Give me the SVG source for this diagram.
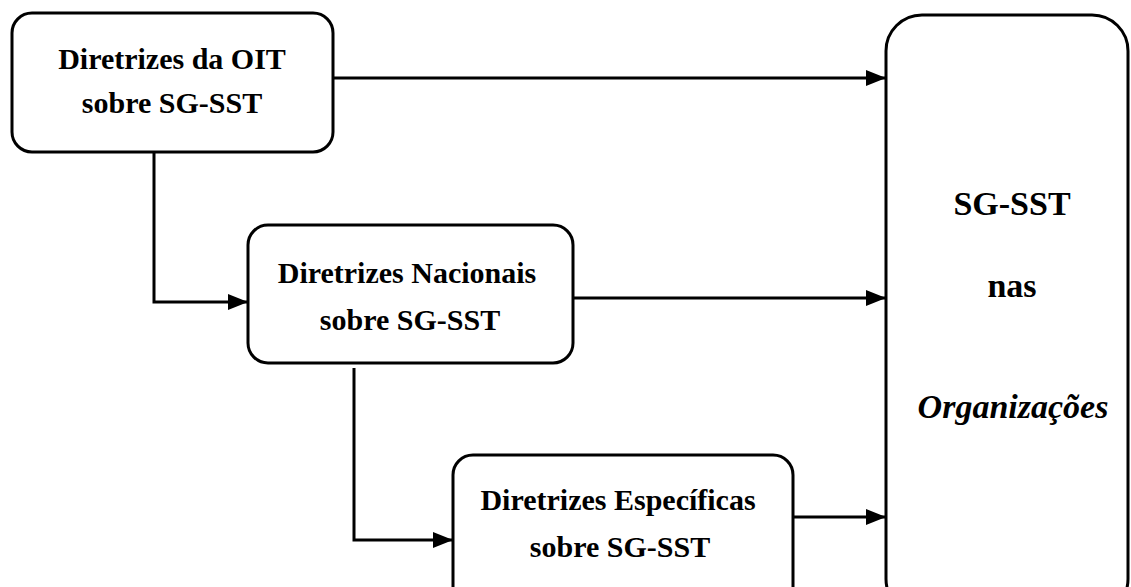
<svg xmlns="http://www.w3.org/2000/svg" width="1131" height="587" viewBox="0 0 1131 587">
<style>
.box{fill:#fff;stroke:#000;stroke-width:3}
.lbl{font-family:"Liberation Serif","Times New Roman",serif;font-weight:bold;font-size:30px;fill:#000;text-anchor:middle}
.big{font-size:34px}
.con{fill:none;stroke:#000;stroke-width:3}
</style>
<defs>
<marker id="ah" viewBox="0 0 20 16" refX="20" refY="8" markerWidth="20" markerHeight="16" markerUnits="userSpaceOnUse" orient="auto">
<path d="M0,0 L20,8 L0,16 z" fill="#000"/>
</marker>
</defs>
<g id="connectors">
<path class="con" d="M333,78 H886" marker-end="url(#ah)"/>
<path class="con" d="M573,298 H886" marker-end="url(#ah)"/>
<path class="con" d="M793,517 H886" marker-end="url(#ah)"/>
<path class="con" d="M154,152 V302 H248" marker-end="url(#ah)"/>
<path class="con" d="M354,368 V540 H453" marker-end="url(#ah)"/>
</g>
<g id="n1">
<rect class="box" x="12" y="13" width="321" height="139" rx="20"/>
<text class="lbl" x="172" y="69">Diretrizes da OIT</text>
<text class="lbl" x="172" y="113">sobre SG-SST</text>
</g>
<g id="n2">
<rect class="box" x="248" y="225" width="325" height="138" rx="20"/>
<text class="lbl" x="407" y="283">Diretrizes Nacionais</text>
<text class="lbl" x="410" y="330">sobre SG-SST</text>
</g>
<g id="n3">
<rect class="box" x="453" y="455" width="340" height="160" rx="20"/>
<text class="lbl" x="618" y="510">Diretrizes Específicas</text>
<text class="lbl" x="620" y="557">sobre SG-SST</text>
</g>
<g id="n4">
<rect class="box" x="886" y="15" width="242" height="600" rx="36"/>
<text class="lbl big" x="1012" y="215">SG-SST</text>
<text class="lbl big" x="1012" y="297">nas</text>
<text class="lbl big" x="1013" y="418" font-style="italic">Organizações</text>
</g>
</svg>
